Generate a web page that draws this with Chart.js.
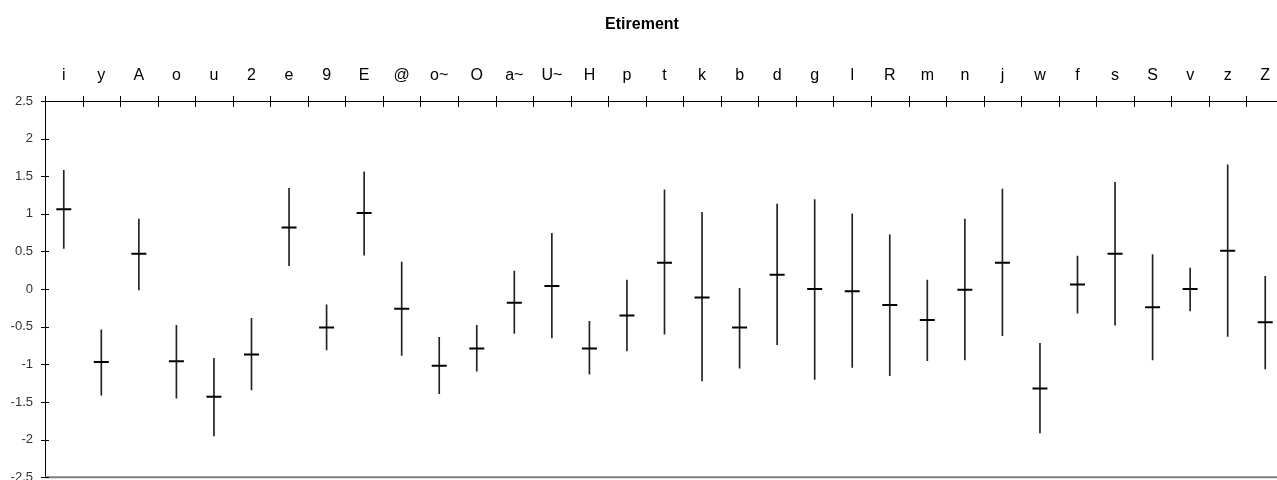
<!DOCTYPE html>
<html>
<head>
<meta charset="utf-8">
<script src="https://cdn.jsdelivr.net/npm/chart.js@4/dist/chart.umd.min.js"></script>
<style>
  html, body { margin: 0; padding: 0; background: #fff; overflow: hidden; }
  #wrap { width: 1290px; height: 497px; }
</style>
</head>
<body>
<div id="wrap"><canvas id="c" width="1290" height="497"></canvas></div>
<script>
const categories = ['i','y','A','o','u','2','e','9','E','@','o~','O','a~','U~','H','p','t','k','b','d','g','l','R','m','n','j','w','f','s','S','v','z','Z'];
const means = [1.06,-0.97,0.47,-0.96,-1.43,-0.87,0.82,-0.51,1.01,-0.26,-1.02,-0.79,-0.18,0.04,-0.79,-0.35,0.35,-0.11,-0.51,0.19,0.00,-0.03,-0.21,-0.41,-0.01,0.35,-1.32,0.06,0.47,-0.24,0.00,0.51,-0.44];
const highs = [1.58,-0.54,0.93,-0.48,-0.92,-0.39,1.34,-0.21,1.56,0.36,-0.64,-0.48,0.24,0.74,-0.43,0.12,1.32,1.02,0.01,1.13,1.19,1.00,0.72,0.12,0.93,1.33,-0.72,0.44,1.42,0.46,0.28,1.65,0.17];
const lows = [0.54,-1.41,-0.01,-1.45,-1.95,-1.34,0.31,-0.81,0.45,-0.88,-1.39,-1.09,-0.59,-0.65,-1.13,-0.82,-0.60,-1.22,-1.05,-0.74,-1.20,-1.04,-1.15,-0.95,-0.94,-0.62,-1.91,-0.32,-0.48,-0.94,-0.29,-0.63,-1.06];
const yTicks = [2.5, 2, 1.5, 1, 0.5, 0, -0.5, -1, -1.5, -2, -2.5];
const yTickLabels = ['2.5','2','1.5','1','0.5','0','-0.5','-1','-1.5','-2','-2.5'];
const titleText = 'Etirement';

const ranges = lows.map((lo, i) => [lo, highs[i]]);

const axisDecor = {
  id: 'axisDecor',
  afterDraw(chart) {
    const ctx = chart.ctx;
    const xs = chart.scales.x, ys = chart.scales.y;
    const area = chart.chartArea;
    ctx.save();
    // grey bottom line at -2.5
    ctx.strokeStyle = '#808080';
    ctx.lineWidth = 2;
    ctx.beginPath();
    ctx.moveTo(area.left, area.bottom);
    ctx.lineTo(area.right, area.bottom);
    ctx.stroke();
    // y tick marks crossing the axis
    ctx.strokeStyle = '#000';
    ctx.lineWidth = 1;
    ys.ticks.forEach(t => {
      const y = Math.round(ys.getPixelForValue(t.value)) + 0.5;
      ctx.beginPath();
      ctx.moveTo(area.left - 4, y);
      ctx.lineTo(area.left + 4, y);
      ctx.stroke();
    });
    // category separator ticks crossing the top axis
    for (let i = 0; i <= categories.length; i++) {
      const x = Math.round(xs.getPixelForValue(i - 0.5)) + 0.5;
      ctx.beginPath();
      ctx.moveTo(x, area.top - 5);
      ctx.lineTo(x, area.top + 6);
      ctx.stroke();
    }
    ctx.restore();
  }
};

new Chart(document.getElementById('c'), {
  type: 'bar',
  data: {
    labels: categories,
    datasets: [
      { type: 'bar', data: ranges, backgroundColor: '#222', borderWidth: 0, barThickness: 1, order: 2 },
      { type: 'line', data: means, showLine: false, pointStyle: 'line', pointRadius: 7.5, pointHoverRadius: 7.5,
        borderColor: '#000', backgroundColor: '#000', pointBorderWidth: 2, borderWidth: 2, order: 1 }
    ]
  },
  options: {
    responsive: false,
    animation: false,
    events: [],
    layout: { autoPadding: false, padding: { left: 0, right: 6, top: 0, bottom: 13 } },
    plugins: {
      legend: { display: false },
      tooltip: { enabled: false },
      title: {
        display: true, text: titleText, color: '#000',
        font: { family: 'Liberation Sans, Arial, sans-serif', size: 16, weight: 'bold' },
        padding: { top: 15.4, bottom: 0 }
      }
    },
    scales: {
      x: {
        type: 'category', position: 'top', offset: true,
        grid: { display: false, drawTicks: false },
        border: { display: true, color: '#000', width: 1 },
        ticks: { color: '#000', font: { family: 'Liberation Sans, Arial, sans-serif', size: 16 }, padding: 16, maxRotation: 0, autoSkip: false },
        afterFit(scale) { scale.height = 66.4; }
      },
      y: {
        min: -2.5, max: 2.5,
        grid: { display: false, drawTicks: false },
        border: { display: true, color: '#000', width: 1 },
        afterBuildTicks(scale) { scale.ticks = yTicks.map(v => ({ value: v })); },
        ticks: { color: '#333', font: { family: 'Liberation Sans, Arial, sans-serif', size: 13 }, padding: 12,
          callback: (v) => { const i = yTicks.indexOf(v); return i >= 0 ? yTickLabels[i] : ''; } },
        afterFit(scale) { scale.width = 45; }
      }
    }
  },
  plugins: [axisDecor]
});
</script>
</body>
</html>
